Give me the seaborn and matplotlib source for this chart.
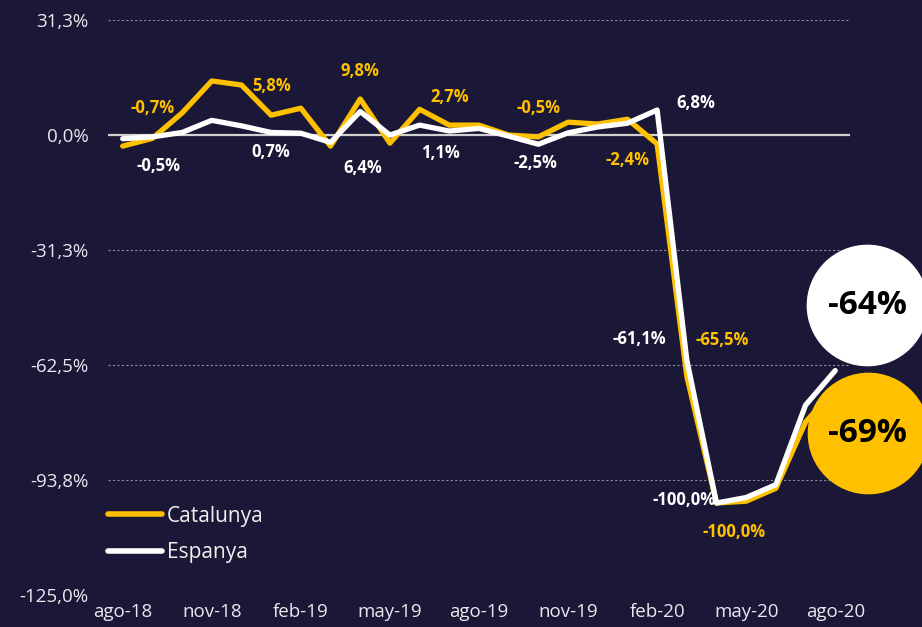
import matplotlib
matplotlib.use("Agg")
import matplotlib.pyplot as plt
from matplotlib.lines import Line2D
import numpy as np
import pandas as pd
import seaborn as sns

# ---------------------------------------------------------------------------
# Data (variació interanual, %)

months = [
    "ago-18", "sep-18", "oct-18", "nov-18", "dic-18", "ene-19", "feb-19",
    "mar-19", "abr-19", "may-19", "jun-19", "jul-19", "ago-19", "sep-19",
    "oct-19", "nov-19", "dic-19", "ene-20", "feb-20", "mar-20", "abr-20",
    "may-20", "jun-20", "jul-20", "ago-20",
]
catalunya = [-3.0, -0.9, 6.0, 14.7, 13.6, 5.4, 7.3, -3.0, 9.8, -2.2, 7.0, 2.7,
             2.7, 0.0, -0.5, 3.5, 3.0, 4.3, -2.4, -65.5, -100.0, -99.5, -96.0,
             -78.0, -69.0]
espanya = [-1.0, -0.5, 0.7, 4.0, 2.5, 0.7, 0.5, -2.0, 6.4, 0.0, 2.7, 1.1,
           1.8, -0.3, -2.5, 0.6, 2.2, 3.2, 6.8, -61.1, -100.0, -98.5, -95.0,
           -73.4, -64.0]

# labels: (text, month index, y)
cat_labels = [("-0,7%", 1.0, 7.3), ("5,8%", 5.0, 13.3), ("9,8%", 8.0, 17.4),
              ("2,7%", 11.0, 10.3), ("-0,5%", 14.0, 7.3), ("-2,4%", 17.0, -6.8),
              ("-65,5%", 20.2, -55.7), ("-100,0%", 20.6, -108.0)]
esp_labels = [("-0,5%", 1.2, -8.4), ("0,7%", 5.0, -4.6), ("6,4%", 8.1, -9.0),
              ("1,1%", 10.7, -4.9), ("-2,5%", 13.9, -7.6), ("6,8%", 19.3, 8.7),
              ("-61,1%", 17.4, -55.4), ("-100,0%", 18.9, -99.2)]

yticks = [31.25, 0.0, -31.25, -62.5, -93.75, -125.0]
ytick_labels = ["31,3%", "0,0%", "-31,3%", "-62,5%", "-93,8%", "-125,0%"]

BG = "#1a1836"
YELLOW = "#ffc000"
WHITE = "#ffffff"
GRID = "#8a8aa0"

df = pd.DataFrame({
    "idx": list(range(len(months))) * 2,
    "valor": catalunya + espanya,
    "serie": ["Catalunya"] * len(months) + ["Espanya"] * len(months),
})

# ---------------------------------------------------------------------------
sns.set_style("dark")
plt.rcParams["font.family"] = ["Open Sans", "DejaVu Sans"]

fig = plt.figure(figsize=(9.22, 6.27), dpi=100, facecolor=BG)
ax = fig.add_axes([0.117, 0.051, 0.805, 0.917], facecolor=BG)

for y in yticks:
    if y == 0:
        ax.axhline(y, color="#d0d0d0", linewidth=1.6, zorder=1)
    else:
        ax.axhline(y, color=GRID, linewidth=0.8, linestyle=(0, (2, 2)), zorder=1)

sns.lineplot(data=df, x="idx", y="valor", hue="serie",
             palette={"Catalunya": YELLOW, "Espanya": WHITE},
             hue_order=["Catalunya", "Espanya"], linewidth=3.8,
             legend=False, ax=ax, zorder=3)

for txt, x, y in cat_labels:
    ax.text(x, y, txt, color=YELLOW, fontsize=12, fontweight="bold",
            ha="center", va="center", zorder=5)
for txt, x, y in esp_labels:
    ax.text(x, y, txt, color=WHITE, fontsize=12, fontweight="bold",
            ha="center", va="center", zorder=5)

# end-value bubbles
ax.scatter([25.08], [-46.2], s=7500, color=WHITE, clip_on=False, zorder=6)
ax.scatter([25.1], [-81.0], s=7500, color=YELLOW, clip_on=False, zorder=6)
ax.text(25.08, -46.2, f"{espanya[-1]:.0f}%", color="black", fontsize=24,
        fontweight="bold", ha="center", va="center", zorder=7, clip_on=False)
ax.text(25.1, -81.0, f"{catalunya[-1]:.0f}%", color="black", fontsize=24,
        fontweight="bold", ha="center", va="center", zorder=7, clip_on=False)

ax.set_xlim(-0.5, 24.5)
ax.set_ylim(-125.0, 31.25)
ax.set_yticks(yticks)
ax.set_yticklabels(ytick_labels)
ax.set_xticks(range(0, len(months), 3))
ax.set_xticklabels(months[::3])
ax.tick_params(axis="both", colors="#e8e8f0", labelsize=13.5, length=0)
ax.tick_params(axis="y", pad=14)
ax.tick_params(axis="x", pad=6)
ax.set_xlabel("")
ax.set_ylabel("")
ax.grid(False)
for s in ax.spines.values():
    s.set_visible(False)

handles = [Line2D([0], [0], color=YELLOW, linewidth=4, solid_capstyle="round"),
           Line2D([0], [0], color=WHITE, linewidth=4, solid_capstyle="round")]
leg = ax.legend(handles, ["Catalunya", "Espanya"], loc="lower left",
                bbox_to_anchor=(0.0, 0.055), frameon=False, fontsize=15,
                labelcolor="#f0f0f0", handlelength=2.6, handletextpad=0.25,
                labelspacing=0.75, borderpad=0, borderaxespad=0)

fig.savefig("out.png", dpi=100, facecolor=BG)
